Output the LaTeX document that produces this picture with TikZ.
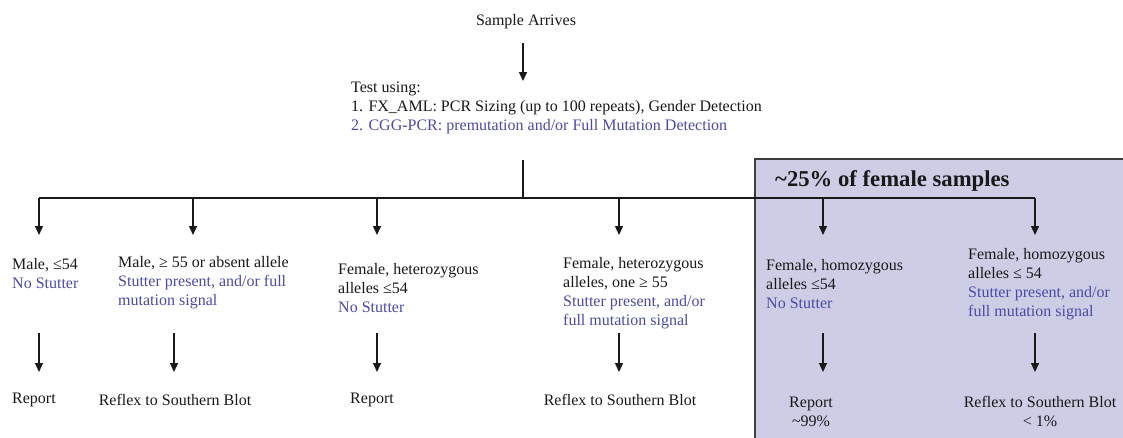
\documentclass[tikz,border=0pt]{standalone}
\usepackage{fontspec}
\setmainfont{Liberation Serif}
\usetikzlibrary{arrows.meta}
\definecolor{txtblue}{RGB}{75,75,165}
\definecolor{boxfill}{RGB}{205,205,230}
\definecolor{boxline}{RGB}{60,60,60}
\definecolor{ink}{RGB}{25,25,25}
\begin{document}
\begin{tikzpicture}[x=1pt,y=-1pt,
  lbl/.style={inner sep=0pt, align=left, font=\fontsize{16}{19}\selectfont, text=ink},
  ctr/.style={lbl, align=center},
  arr/.style={draw=ink, line width=1.4pt, -{Triangle[width=8pt,length=9pt]}},
  bus/.style={draw=ink, line width=1.4pt},
]
\useasboundingbox (0,0) rectangle (1123,437);
\fill[white] (0,0) rectangle (1123,437);
% shaded region
\draw[fill=boxfill, draw=boxline, line width=1.5pt] (755,159) rectangle (1135,450);
\node[lbl, anchor=west, font=\bfseries\fontsize{22.7}{26}\selectfont] (pct) at (775,181) {\textasciitilde 25\% of female samples};

% top
\node[lbl] (sa) at (526,22) {Sample Arrives};
\node[lbl, anchor=west] (test) at (351,108) {Test using:\\1. FX\_AML: PCR Sizing (up to 100 repeats), Gender Detection\\\textcolor{txtblue}{2. CGG-PCR: premutation and/or Full Mutation Detection}};

% columns
\node[lbl, anchor=west] (c1) at (12,273.5) {Male, ≤54\\\textcolor{txtblue}{No Stutter}};
\node[lbl, anchor=west] (c2) at (118,283) {Male, ≥ 55 or absent allele\\\textcolor{txtblue}{Stutter present, and/or full}\\\textcolor{txtblue}{mutation signal}};
\node[lbl, anchor=west] (c3) at (338,288) {Female, heterozygous\\alleles ≤54\\\textcolor{txtblue}{No Stutter}};
\node[lbl, anchor=west] (c4) at (563,293) {Female, heterozygous\\alleles, one ≥ 55\\\textcolor{txtblue}{Stutter present, and/or}\\\textcolor{txtblue}{full mutation signal}};
\node[lbl, anchor=west] (c5) at (766,284.5) {Female, homozygous\\alleles ≤54\\\textcolor{txtblue}{No Stutter}};
\node[lbl, anchor=west] (c6) at (968,284) {Female, homozygous\\alleles ≤ 54\\\textcolor{txtblue}{Stutter present, and/or}\\\textcolor{txtblue}{full mutation signal}};

% results
\node[lbl, anchor=west] (r1) at (12,400) {Report};
\node[ctr] (r2) at (175,400) {Reflex to Southern Blot};
\node[ctr] (r3) at (372,400) {Report};
\node[ctr] (r4) at (620,400) {Reflex to Southern Blot};
\node[ctr] (r5) at (811,411.5) {Report\\\textasciitilde 99\%};
\node[ctr] (r6) at (1040,411.5) {Reflex to Southern Blot\\< 1\%};

% connector points
\coordinate (saout) at (523,43);
\coordinate (testin) at (523,81);
\coordinate (testout) at (523,160);
\coordinate (split) at (523,198);
\coordinate (busL) at (39,198);
\coordinate (busR) at (1035,198);

\draw[arr] (saout) -- (testin);
\draw[bus] (testout) -- (split);
\draw[bus] (busL) -- (busR);

\foreach \i/\x in {1/39,2/193,3/377,4/619,5/823,6/1035}{
  \coordinate (b\i) at (\x,198);
  \coordinate (t\i) at (\x,235);
  \draw[arr] (b\i) -- (t\i);
}
\foreach \i/\x in {1/39,2/174,3/377,4/619,5/823,6/1035}{
  \coordinate (m\i) at (\x,333);
  \coordinate (n\i) at (\x,372);
  \draw[arr] (m\i) -- (n\i);
}
\end{tikzpicture}
\end{document}
